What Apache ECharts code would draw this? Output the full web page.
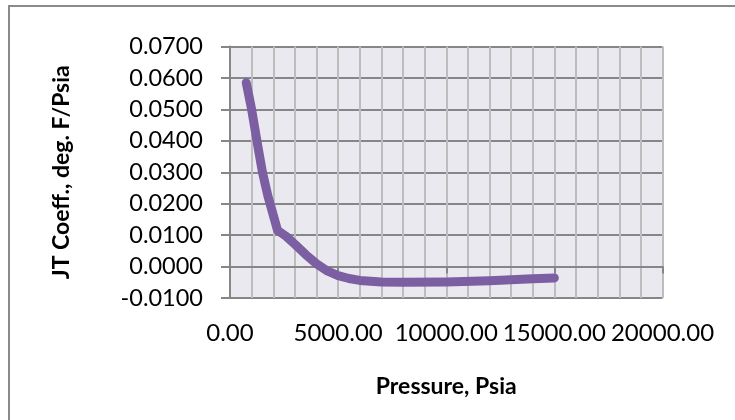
<!DOCTYPE html>
<html>
<head>
<meta charset="utf-8">
<script src="https://cdn.jsdelivr.net/npm/echarts@6/dist/echarts.min.js"></script>
<style>
  html, body { margin: 0; padding: 0; background: #fff; }
  #chart { width: 735px; height: 420px; }
</style>
</head>
<body>
<div id="chart"></div>
<script>
// Joule-Thomson coefficient versus pressure
const pressure = [750, 1000, 1250, 1500, 1750, 2200, 2600, 3000, 3500, 4000, 4500, 5000, 5500, 6000, 7000, 8000, 10000, 12000, 14000, 15000];
const jtCoeff = [0.0585, 0.0500, 0.0398, 0.0300, 0.0225, 0.0115, 0.0096, 0.0071, 0.0038, 0.0009, -0.0014, -0.0029, -0.0038, -0.0044, -0.0049, -0.0050, -0.0049, -0.0045, -0.0039, -0.0036];

const xTitle = 'Pressure, Psia';
const yTitle = 'JT Coeff., deg. F/Psia';

const FONT = 'Lato, "Liberation Sans", sans-serif';

const chart = echarts.init(document.getElementById('chart'));
chart.setOption({
  animation: false,
  backgroundColor: '#ffffff',
  graphic: [{
    type: 'rect',
    shape: { x: 9, y: 6, width: 900, height: 600 },
    style: { fill: 'none', stroke: '#8a8a8a', lineWidth: 2 },
    z: -1
  }],
  grid: {
    left: 230, right: 72.5, top: 46.5, bottom: 122,
    show: true, backgroundColor: '#ebe9f0', borderWidth: 0
  },
  xAxis: [{
    type: 'value',
    position: 'bottom',
    min: 0, max: 20000, interval: 5000,
    axisLine: { show: false, onZero: false },
    axisTick: { show: false },
    axisLabel: {
      margin: 23, fontFamily: FONT, fontSize: 24, color: '#000',
      formatter: v => v.toFixed(2)
    },
    splitLine: { show: true, lineStyle: { color: '#bdbdbd', width: 2 } },
    minorTick: { show: false, splitNumber: 5 },
    minorSplitLine: { show: true, lineStyle: { color: '#bdbdbd', width: 2 } },
    name: xTitle, nameLocation: 'middle', nameGap: 77,
    nameTextStyle: { fontFamily: FONT, fontSize: 23, fontWeight: 'bold', color: '#000' }
  }, {
    // zero line with major ticks
    type: 'value',
    position: 'top',
    min: 0, max: 20000, interval: 5000,
    axisLine: { show: true, onZero: true, lineStyle: { color: '#868686', width: 2 } },
    axisTick: { show: true, inside: true, length: 7, lineStyle: { color: '#868686', width: 2 } },
    axisLabel: { show: false },
    splitLine: { show: false }
  }],
  yAxis: {
    type: 'value',
    min: -0.01, max: 0.07, interval: 0.01,
    axisLine: { show: true, onZero: false, lineStyle: { color: '#868686', width: 2 } },
    axisTick: { show: true, length: 9, lineStyle: { color: '#868686', width: 2 } },
    axisLabel: {
      margin: 27, fontFamily: FONT, fontSize: 23.5, color: '#000',
      formatter: v => v.toFixed(4)
    },
    splitLine: { show: true, lineStyle: { color: '#868686', width: 2 } },
    name: yTitle, nameLocation: 'middle', nameGap: 157,
    nameTextStyle: { fontFamily: FONT, fontSize: 23, fontWeight: 'bold', color: '#000' }
  },
  series: [{
    type: 'line',
    xAxisIndex: 0,
    data: pressure.map((p, i) => [p, jtCoeff[i]]),
    showSymbol: false,
    smooth: false,
    lineStyle: { color: '#7c5fa3', width: 9, cap: 'round', join: 'round' },
    z: 5
  }]
});
</script>
</body>
</html>
